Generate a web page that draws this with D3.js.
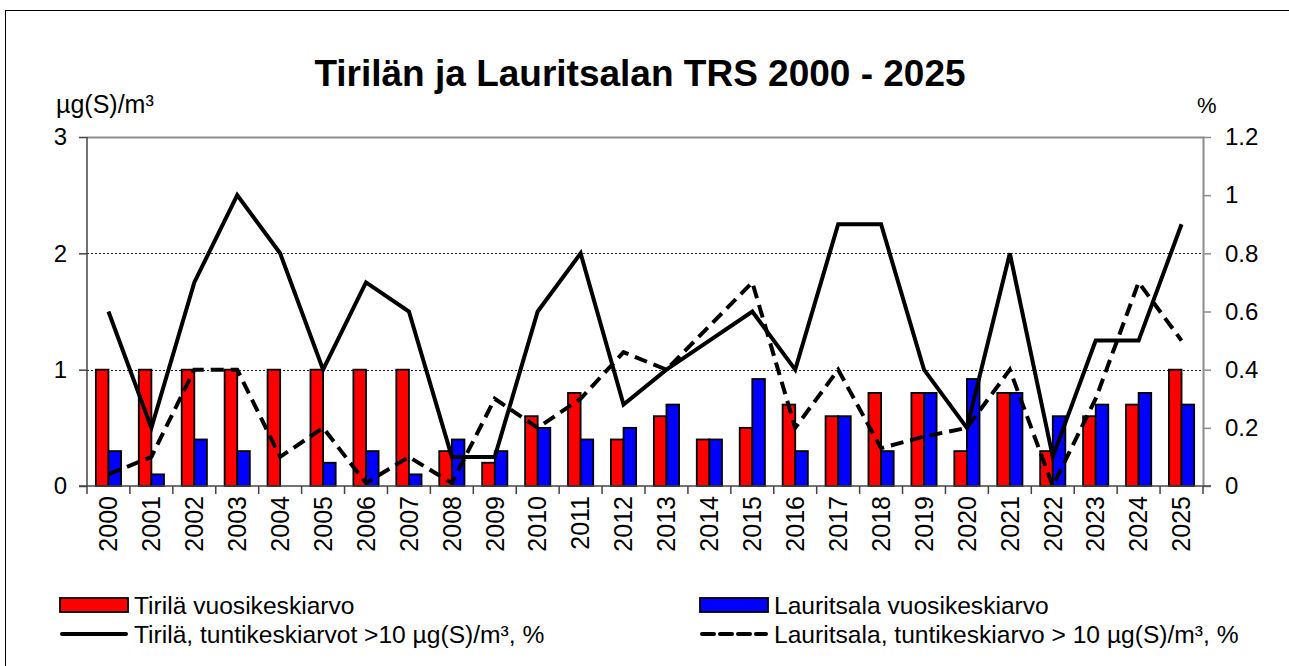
<!DOCTYPE html>
<html>
<head>
<meta charset="utf-8">
<script src="https://cdn.jsdelivr.net/npm/d3@7"></script>
<style>
  body { margin: 0; background: #fff; }
  svg text { font-family: "Liberation Sans", Arial, sans-serif; fill: #000; }
</style>
</head>
<body>
<svg id="chart" width="1289" height="666"></svg>
<script>
// data
var years = ["2000","2001","2002","2003","2004","2005","2006","2007","2008","2009","2010","2011","2012",
             "2013","2014","2015","2016","2017","2018","2019","2020","2021","2022","2023","2024","2025"];
var tirilaAvg     = [1.0,1.0,1.0,1.0,1.0,1.0,1.0,1.0,0.3,0.2,0.6,0.8,0.4,0.6,0.4,0.5,0.7,0.6,0.8,0.8,0.3,0.8,0.3,0.6,0.7,1.0];
var lauritsalaAvg = [0.3,0.1,0.4,0.3,0.0,0.2,0.3,0.1,0.4,0.3,0.5,0.4,0.5,0.7,0.4,0.92,0.3,0.6,0.3,0.8,0.92,0.8,0.6,0.7,0.8,0.7];
var tirilaPct     = [0.6,0.2,0.7,1.0,0.8,0.4,0.7,0.6,0.1,0.1,0.6,0.8,0.28,0.4,0.5,0.6,0.4,0.9,0.9,0.4,0.2,0.8,0.1,0.5,0.5,0.9];
var lauritsalaPct = [0.04,0.1,0.4,0.4,0.1,0.2,0.01,0.1,0.01,0.3,0.2,0.3,0.46,0.4,0.55,0.7,0.2,0.4,0.13,0.17,0.2,0.4,0.0,0.3,0.7,0.5];
var leftTicks  = [0, 1, 2, 3];
var rightTicks = [0, 0.2, 0.4, 0.6, 0.8, 1, 1.2];
var gridTicks  = [1, 2];

var title = "Tirilän ja Lauritsalan TRS 2000 - 2025",
    leftUnit = "µg(S)/m³",
    rightUnit = "%",
    legendNames = ["Tirilä vuosikeskiarvo", "Lauritsala vuosikeskiarvo",
                   "Tirilä, tuntikeskiarvot >10 µg(S)/m³, %", "Lauritsala, tuntikeskiarvo > 10 µg(S)/m³, %"];

var svg = d3.select("#chart"),
    L = 87, R = 1203, T = 137, B = 486,
    barW = 12.6;

var x = d3.scaleBand().domain(years).range([L, R]).padding(0),
    x1 = d3.scaleBand().domain(["t", "l"])
      .range([x.bandwidth()/2 - barW, x.bandwidth()/2 + barW]),
    y = d3.scaleLinear().domain([0, 3]).range([B, T]),
    y2 = d3.scaleLinear().domain([0, 1.2]).range([B, T]);

// outer frame
svg.append("rect")
    .attr("x", 5.5).attr("y", 10.5)
    .attr("width", 1300).attr("height", 700)
    .style("fill", "#fff").style("stroke", "#000").style("stroke-width", 1);

svg.append("text")
    .attr("x", 640).attr("y", 86)
    .attr("text-anchor", "middle")
    .style("font-size", "37px").style("font-weight", "bold")
    .text(title);

// plot frame, top and right in grey
svg.append("path")
    .attr("d", "M" + L + "," + (T+0.5) + "H" + (R+0.5) + "V" + B)
    .style("fill", "none").style("stroke", "#8c8c8c").style("stroke-width", 2);

// dotted gridlines
svg.selectAll("line.grid")
    .data(gridTicks)
  .enter().append("line")
    .attr("class", "grid")
    .attr("x1", L).attr("x2", R)
    .attr("y1", function(d) { return Math.round(y(d)) + 0.5; })
    .attr("y2", function(d) { return Math.round(y(d)) + 0.5; })
    .style("stroke", "#222").style("stroke-width", 1).style("stroke-dasharray", "2,2");

// bars
var groups = svg.selectAll("g.year")
    .data(years)
  .enter().append("g")
    .attr("class", "year")
    .attr("transform", function(d) { return "translate(" + x(d) + ",0)"; });

groups.append("rect")
    .attr("x", x1("t"))
    .attr("y", function(d, i) { return y(tirilaAvg[i]); })
    .attr("width", x1.bandwidth())
    .attr("height", function(d, i) { return B - y(tirilaAvg[i]); })
    .style("fill", "#ff0000").style("stroke", "#000").style("stroke-width", 1.8);

groups.filter(function(d, i) { return lauritsalaAvg[i] > 0; })
  .append("rect")
    .attr("x", x1("l"))
    .attr("y", function(d) { return y(lauritsalaAvg[years.indexOf(d)]); })
    .attr("width", x1.bandwidth())
    .attr("height", function(d) { return B - y(lauritsalaAvg[years.indexOf(d)]); })
    .style("fill", "#0000ff").style("stroke", "#000").style("stroke-width", 1.8);

// lines on the right axis
var line = d3.line()
    .x(function(d, i) { return x(years[i]) + x.bandwidth()/2; })
    .y(function(d) { return y2(d); });

svg.append("path")
    .datum(lauritsalaPct)
    .attr("d", line)
    .style("fill", "none").style("stroke", "#000").style("stroke-width", 4)
    .style("stroke-dasharray", "13,7");

svg.append("path")
    .datum(tirilaPct)
    .attr("d", line)
    .style("fill", "none").style("stroke", "#000").style("stroke-width", 4)
    .style("stroke-linejoin", "miter");

// axes
var yAxis = svg.append("g")
    .attr("transform", "translate(" + L + ",0)")
    .call(d3.axisLeft(y).tickValues(leftTicks).tickSize(8).tickSizeOuter(0).tickPadding(12)
      .tickFormat(d3.format("d")));
var y2Axis = svg.append("g")
    .attr("transform", "translate(" + R + ",0)")
    .call(d3.axisRight(y2).tickValues(rightTicks).tickSize(8).tickSizeOuter(0).tickPadding(14)
      .tickFormat(function(d) { return d3.format("")(+d.toFixed(1)); }));
yAxis.selectAll("line, path").style("stroke", "#444").style("stroke-width", 1.5);
y2Axis.selectAll("line, path").style("stroke", "#8c8c8c").style("stroke-width", 1.5);
svg.selectAll(".tick text").style("font-size", "24px");
yAxis.select(".domain").remove();
y2Axis.select(".domain").remove();
svg.append("line")
    .attr("x1", L).attr("x2", L).attr("y1", T).attr("y2", B)
    .style("stroke", "#444").style("stroke-width", 1.5);

var xAxis = svg.append("g")
    .attr("transform", "translate(0," + B + ")")
    .call(d3.axisBottom(x).tickSize(0).tickSizeOuter(0));
xAxis.select(".domain").remove();
xAxis.selectAll("text")
    .attr("transform", "rotate(-90)")
    .attr("x", -10).attr("y", 0).attr("dy", "0.35em")
    .style("text-anchor", "end").style("font-size", "25px");

// x axis line and ticks between the years
svg.append("line")
    .attr("x1", L - 8).attr("x2", R + 8).attr("y1", B).attr("y2", B)
    .style("stroke", "#444").style("stroke-width", 1.5);
svg.selectAll("line.xtick")
    .data(years.concat(["end"]))
  .enter().append("line")
    .attr("class", "xtick")
    .attr("x1", function(d) { return d == "end" ? R : x(d); })
    .attr("x2", function(d) { return d == "end" ? R : x(d); })
    .attr("y1", B).attr("y2", B + 8)
    .style("stroke", "#444").style("stroke-width", 1.5);

svg.append("text").attr("x", 56).attr("y", 113)
    .style("font-size", "25px").text(leftUnit);
svg.append("text").attr("x", 1197).attr("y", 113)
    .style("font-size", "22px").text(rightUnit);

// legend
var lg = svg.append("g").style("font-size", "24.6px");
var rows = [
  {x: 60, y: 605, kind: "rect", fill: "#ff0000"},
  {x: 700, y: 605, kind: "rect", fill: "#0000ff"},
  {x: 60, y: 634, kind: "line", dash: null},
  {x: 700, y: 634, kind: "line", dash: "12,6"}
];
rows.forEach(function(r, i) {
  if (r.kind == "rect") {
    lg.append("rect").attr("x", r.x).attr("y", r.y - 7).attr("width", 68).attr("height", 14)
      .style("fill", r.fill).style("stroke", "#000").style("stroke-width", 1.8);
  } else {
    lg.append("line").attr("x1", r.x + 2).attr("x2", r.x + 66).attr("y1", r.y).attr("y2", r.y)
      .style("stroke", "#000").style("stroke-width", 4).style("stroke-linecap", "round")
      .style("stroke-dasharray", r.dash);
  }
  lg.append("text").attr("x", r.x + 74).attr("y", r.y).attr("dy", "0.35em").text(legendNames[i]);
});
</script>
</body>
</html>
